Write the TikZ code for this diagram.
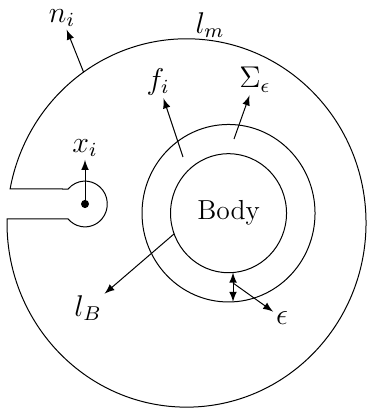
\documentclass[tikz,border=0pt]{standalone}
\usepackage{amsmath, amssymb}
\usepackage{tikz}
\usetikzlibrary{calc, positioning, arrows}

\tikzset{
  lbl/.style={inner sep=1pt, font=\large},
}

\begin{document}
\begin{tikzpicture}[>=latex, x=0.4pt, y=0.4104pt]

    % =================================================================
    % 1. MAIN POINTS
    % =================================================================
    \coordinate (O) at (0,0);          % centre of outer boundary
    \coordinate (C) at (42,9.5);       % centre of the body
    \coordinate (K) at (-101.5,18.5);  % point x_i (end of the slit)

    \useasboundingbox (-186.5,-181.3) rectangle (179.5,217.3);

    % =================================================================
    % 2. OUTER BOUNDARY WITH SLIT
    % =================================================================
    \draw (178.75:179.5) arc[start angle=178.75, end angle=529.37, radius=179.5]
        -- ($(K)+(139.1:22.3)$)
        arc[start angle=139.1, end angle=-139.1, radius=22.3] -- cycle;

    % =================================================================
    % 3. BODY AND THE RING AROUND IT
    % =================================================================
    \draw (C) circle (86.5);
    \draw (C) circle (58);
    \node[font=\fontsize{11}{13}\selectfont] at (C) {Body};

    \fill (K) circle (4);

    % =================================================================
    % 4. LABELS
    % =================================================================
    \node[lbl] (xi)  at (-101.5,73)   {$x_i$};
    \node[lbl] (ni)  at (-124.5,199.8) {$n_i$};
    \node[lbl] (lm)  at (23.5,193)    {$l_m$};
    \node[lbl] (fi)  at (-28.5,137.4) {$f_i$};
    \node[lbl] (Se)  at (68.5,139.4)  {$\Sigma_\epsilon$};
    \node[lbl] (lB)  at (-98.5,-82.8) {$l_B$};
    \node[lbl] (eps) at (95.5,-92.6)  {$\epsilon$};

    % =================================================================
    % 5. ARROWS
    % =================================================================
    \coordinate (nfoot) at (125:179.5);
    \coordinate (ffoot) at (-3.5,64.3);
    \coordinate (Sfoot) at (47.5,81.9);
    \coordinate (lfoot) at ($(C)+(200.3:58)$);
    \coordinate (einner) at ($(C)+(4.5,-57.8)$);
    \coordinate (eouter) at ($(C)+(4.5,-86.4)$);
    \coordinate (efoot) at (46.5,-58.5);

    \draw[->] (K) -- (xi);
    \draw[->] (nfoot) -- (ni);
    \draw[->] (ffoot) -- (fi);
    \draw[->] (Sfoot) -- (Se);
    \draw[->] (lfoot) -- (lB);
    \draw[<->] (einner) -- (eouter);
    \draw[->] (efoot) -- (eps);

\end{tikzpicture}
\end{document}
